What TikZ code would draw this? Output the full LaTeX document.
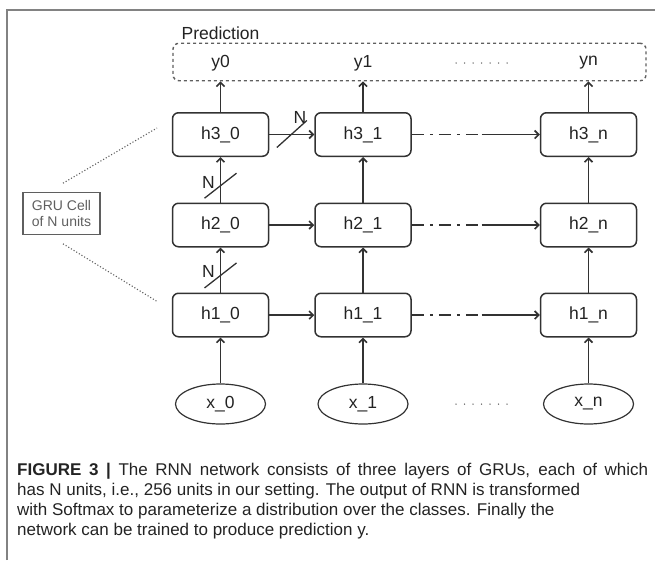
\documentclass[tikz,border=0pt]{standalone}
\usepackage{fontspec}
\setmainfont{Liberation Sans}
\usetikzlibrary{shapes, arrows.meta, calc}

\definecolor{linegray}{RGB}{50,50,50}
\definecolor{txtgray}{RGB}{35,35,35}
\definecolor{framegray}{RGB}{130,130,130}
\definecolor{softgray}{RGB}{95,95,95}

\begin{document}
\begin{tikzpicture}[x=1pt, y=-1pt, >={Straight Barb[length=4pt,width=8pt]}]
\tikzset{
  cell/.style={draw=linegray, rounded corners=6pt, minimum width=96pt,
               minimum height=43.5pt, line width=1.5pt, text=txtgray,
               font=\fontsize{17.5}{20}\selectfont},
  xin/.style={draw=linegray, ellipse, minimum width=90pt, minimum height=40pt,
              inner sep=0pt, line width=1.2pt, text=txtgray,
              font=\fontsize{17.5}{20}\selectfont},
  lbl/.style={text=txtgray, inner sep=0pt, font=\fontsize{17.5}{20}\selectfont},
  link/.style={draw=linegray, line width=1.6pt},
  dashdot/.style={link, dash pattern=on 12pt off 6pt on 3pt off 6pt},
  bus/.style={draw=linegray, line width=1.3pt},
  dotrow/.style={draw=softgray, line width=1.5pt, line cap=round,
                 dash pattern=on 0pt off 8.5pt},
  guide/.style={draw=softgray, line width=1.1pt, dotted},
  gru/.style={draw=softgray, line width=1.1pt, align=center, text=softgray,
              minimum width=77pt, minimum height=41.5pt, inner sep=1pt,
              font=\fontsize{14}{16}\selectfont},
  caption/.style={text=txtgray, align=justify, text width=631pt, inner sep=0pt,
                  font=\fontsize{17}{20.3}\selectfont}
  };

\useasboundingbox (0,0) rectangle (655,560);

\def\xa{220.5}
\def\xb{363}
\def\xn{588.5}

% frame
\draw[framegray, line width=1.5pt] (7,560) |- (655,10);

% prediction box
\node[draw=softgray, dashed, rounded corners=6pt, line width=1.4pt,
      minimum width=473pt, minimum height=37.5pt] (pred) at (409.5,62) {};
\node[lbl] (predlbl) at (\xa,33) {Prediction};
\node[lbl] (y0) at (\xa,63) {y0};
\node[lbl] (y1) at (\xb,63) {y1};
\node[lbl] (yn) at (\xn,63) {yn};
\coordinate (ydl) at (456,63);
\coordinate (ydr) at (508,63);
\draw[dotrow] (ydl) -- (ydr);

% GRU layers
\node[cell] (h30) at (\xa,134.5) {h3\_0};
\node[cell] (h31) at (\xb,134.5) {h3\_1};
\node[cell] (h3n) at (\xn,134.5) {h3\_n};
\node[cell] (h20) at (\xa,225) {h2\_0};
\node[cell] (h21) at (\xb,225) {h2\_1};
\node[cell] (h2n) at (\xn,225) {h2\_n};
\node[cell] (h10) at (\xa,315) {h1\_0};
\node[cell] (h11) at (\xb,315) {h1\_1};
\node[cell] (h1n) at (\xn,315) {h1\_n};

% inputs
\node[xin] (x0) at (\xa,404) {x\_0};
\node[xin] (x1) at (\xb,404) {x\_1};
\node[xin] (xn) at (\xn,404) {x\_n};
\coordinate (xdl) at (456,404);
\coordinate (xdr) at (511,404);
\draw[dotrow] (xdl) -- (xdr);

% vertical links
\foreach \c in {0,1,n}{
  \draw[link, ->] (x\c) -- (h1\c);
  \draw[link, ->] (h3\c) -- (h3\c |- pred.south);
}
\draw[link, ->] (h10) -- coordinate[pos=0.39] (m1) (h20);
\draw[link, ->] (h20) -- coordinate[pos=0.38] (m2) (h30);
\draw[link, ->] (h11) -- (h21);
\draw[link, ->] (h21) -- (h31);
\draw[link, ->] (h1n) -- (h2n);
\draw[link, ->] (h2n) -- (h3n);

% horizontal links
\draw[link, ->] (h30) -- coordinate[pos=0.48] (m3) (h31);
\draw[link, ->] (h20) -- (h21);
\draw[link, ->] (h10) -- (h11);
\foreach \l in {1,2,3}{
  \coordinate (d\l) at ($(h\l1.east)!0.53!(h\l n.west)$);
  \draw[dashdot] (h\l1) -- (d\l);
  \draw[link, ->] ([xshift=2pt]d\l) -- (h\l n);
}

% N-unit marks
\draw[bus] ($(m1)+(-16,13)$) -- ($(m1)+(16,-12)$);
\node[lbl] (n1) at ($(m1)+(-12,-3)$) {N};
\draw[bus] ($(m2)+(-16,13)$) -- ($(m2)+(16,-12)$);
\node[lbl] (n2) at ($(m2)+(-12,-3)$) {N};
\draw[bus] ($(m3)+(-14,13)$) -- ($(m3)+(16,-14)$);
\node[lbl] (n3) at ($(m3)+(9,-17)$) {N};

% GRU cell note
\node[gru] (gru) at (61.5,213.5) {GRU Cell\\of N units};
\coordinate (gu) at (157,128);
\coordinate (gl) at (158,302);
\draw[guide] ($(gru.north)+(1.5,-9)$) -- (gu);
\draw[guide] ($(gru.south)+(1.5,9)$) -- (gl);

% caption
\node[caption, anchor=north west] (cap) at (17,462.5)
  {\textbf{FIGURE 3 |} The RNN network consists of three layers of GRUs, each of which\linebreak
   has N units, i.e., 256 units in our setting. The output of RNN is transformed\\
   with Softmax to parameterize a distribution over the classes. Finally the\\
   network can be trained to produce prediction y.};

\end{tikzpicture}
\end{document}
